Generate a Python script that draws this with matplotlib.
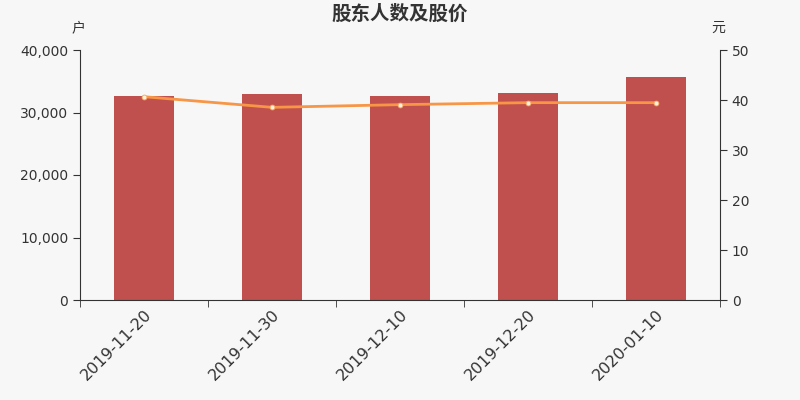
import matplotlib
matplotlib.use("Agg")
import matplotlib.pyplot as plt
import matplotlib.transforms as mtransforms
from matplotlib.ticker import FuncFormatter

plt.rcParams['font.family'] = ['DejaVu Sans', 'Noto Sans CJK SC']

categories = ["2019-11-20", "2019-11-30", "2019-12-10", "2019-12-20", "2020-01-10"]
holders = [32640, 32960, 32590, 33170, 35680]
prices = [40.66, 38.53, 39.07, 39.47, 39.47]

bg = "#f7f7f7"
fig = plt.figure(figsize=(8, 4), dpi=100, facecolor=bg)
ax = fig.add_axes([0.1, 0.25, 0.8, 0.625], facecolor=bg)
x = list(range(len(categories)))
ax.bar(x, holders, width=60/128, color="#c0504d", zorder=2)
ax.set_xlim(-0.5, len(categories) - 0.5)
ax.set_ylim(0, 40000)
ax.set_yticks([0, 10000, 20000, 30000, 40000])
ax.yaxis.set_major_formatter(FuncFormatter(lambda v, p: f"{int(v):,}"))
ax.set_xticks(x)
ax.set_xticklabels(categories, rotation=45, ha="right", rotation_mode="anchor", fontsize=11.5, color="#333333")
offset = mtransforms.ScaledTranslation(-5/100, 0, fig.dpi_scale_trans)
for lab in ax.get_xticklabels():
    lab.set_transform(lab.get_transform() + offset)
ax.set_xticks([i - 0.5 for i in range(len(categories) + 1)], minor=True)
ax.tick_params(axis="x", which="major", length=0, pad=5)
ax.tick_params(axis="x", which="minor", length=5, color="#333333")
ax.tick_params(axis="y", labelsize=10, colors="#333333", length=5)
for s in ["top", "right"]:
    ax.spines[s].set_visible(False)
for s in ["left", "bottom"]:
    ax.spines[s].set_color("#333333")

ax2 = ax.twinx()
ax2.plot(x, prices, color="#f79646", linewidth=2, marker="o", markersize=3.5,
         markerfacecolor="#fff0dc", markeredgecolor="#f7a860", markeredgewidth=0.6, zorder=3)
ax2.set_ylim(0, 50)
ax2.set_yticks([0, 10, 20, 30, 40, 50])
ax2.tick_params(axis="y", labelsize=10, colors="#333333", length=5)
for s in ["top", "left", "bottom"]:
    ax2.spines[s].set_visible(False)
ax2.spines["right"].set_color("#333333")

fig.text(0.5, 1 - 14/400, "股东人数及股价", ha="center", va="center", fontsize=14,
         fontweight="bold", color="#333333", family=["Noto Sans CJK SC", "DejaVu Sans"])
fig.text(78/800, 1 - 28/400, "户", ha="center", va="center", fontsize=10,
         color="#333333", family=["Noto Sans CJK SC", "DejaVu Sans"])
fig.text(718/800, 1 - 28/400, "元", ha="center", va="center", fontsize=10,
         color="#333333", family=["Noto Sans CJK SC", "DejaVu Sans"])

fig.savefig("out.png", dpi=100, facecolor=bg)
